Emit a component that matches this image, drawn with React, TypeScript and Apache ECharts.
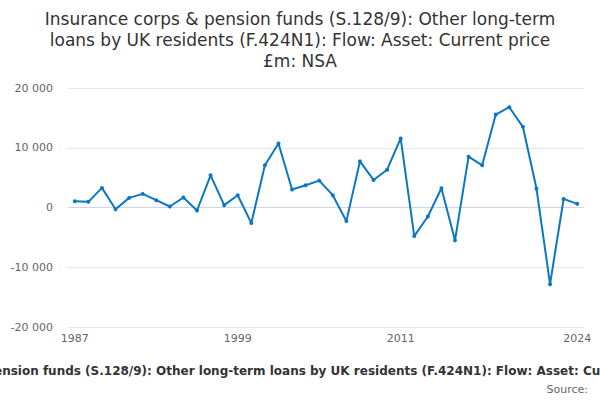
import React, { useEffect, useRef } from "react";
import * as echarts from "echarts";

const years: string[] = [
  "1987","1988","1989","1990","1991","1992","1993","1994","1995","1996",
  "1997","1998","1999","2000","2001","2002","2003","2004","2005","2006",
  "2007","2008","2009","2010","2011","2012","2013","2014","2015","2016",
  "2017","2018","2019","2020","2021","2022","2023","2024",
];

const values: number[] = [
  1050, 950, 3280, -280, 1610, 2280, 1220, 170, 1670, -500,
  5390, 390, 2060, -2610, 7060, 10720, 3000, 3720, 4500, 2060,
  -2280, 7720, 4610, 6330, 11560, -4780, -1500, 3220, -5500, 8500,
  7060, 15560, 16780, 13500, 3170, -12830, 1440, 610,
];

const yTicks: number[] = [-20000, -10000, 0, 10000, 20000];

const titleText =
  "Insurance corps & pension funds (S.128/9): Other long-term\nloans by UK residents (F.424N1): Flow: Asset: Current price\n£m: NSA";
const axisTitle =
  "Insurance corps & pension funds (S.128/9): Other long-term loans by UK residents (F.424N1): Flow: Asset: Current price £m: NSA";

const fmt = (v: number) => {
  const s = Math.abs(v).toString().replace(/\B(?=(\d{3})+(?!\d))/g, " ");
  return (v < 0 ? "-" : "") + s;
};

function measure(text: string, font: string): number {
  const c = document.createElement("canvas");
  const ctx = c.getContext("2d");
  if (!ctx) return 135;
  ctx.font = font;
  return ctx.measureText(text).width;
}

export default function App() {
  const ref = useRef<HTMLDivElement>(null);
  useEffect(() => {
    if (!ref.current) return;
    const chart = echarts.init(ref.current, undefined, { renderer: "svg" });
    const last = years.length - 1;

    // The axis title overflows the chart in the reference: place it so the same part shows.
    const prefixW = measure("Insurance corps & p", "bold 12px 'DejaVu Sans'");
    const axisTitleX = -6 - prefixW;

    chart.setOption({
      animation: false,
      textStyle: { fontFamily: "DejaVu Sans" },
      title: {
        text: titleText,
        left: "center",
        top: 3,
        textStyle: {
          fontFamily: "DejaVu Sans",
          fontSize: 17,
          fontWeight: "normal",
          color: "#333333",
          lineHeight: 21,
        },
      },
      grid: { left: 68, right: 16, top: 88, bottom: 73, containLabel: false, outerBoundsMode: "none" },
      xAxis: {
        type: "category",
        data: years,
        boundaryGap: true,
        axisLine: { lineStyle: { color: "#ccd6eb", width: 1 } },
        axisTick: {
          alignWithLabel: true,
          length: 9,
          lineStyle: { color: "#ccd6eb" },
          interval: (i: number) => (i % 3 === 0 && i < 36) || i === last,
        },
        axisLabel: {
          color: "#666666",
          fontSize: 11,
          margin: 6,
          interval: (i: number) => (i % 12 === 0 && i < 36) || i === last,
        },
        splitLine: { show: false },
      },
      yAxis: {
        type: "value",
        min: -20000,
        max: 20000,
        interval: 10000,
        axisLine: { show: false },
        axisTick: { show: false },
        axisLabel: {
          color: "#666666",
          fontSize: 11,
          margin: 15,
          formatter: (v: number) => (yTicks.includes(v) ? fmt(v) : ""),
        },
        splitLine: { lineStyle: { color: "#e6e6e6", width: 1 } },
      },
      series: [
        {
          type: "line",
          data: values,
          symbol: "circle",
          symbolSize: 4,
          lineStyle: { color: "#0a78c0", width: 2 },
          itemStyle: { color: "#0a78c0" },
        },
      ],
      graphic: [
        {
          type: "text",
          left: axisTitleX,
          top: 365,
          style: {
            text: axisTitle,
            fontFamily: "DejaVu Sans",
            fontSize: 12,
            fontWeight: "bold",
            fill: "#333333",
          },
        },
        {
          type: "text",
          x: 588,
          y: 389,
          style: {
            text: "Source:",
            fontFamily: "DejaVu Sans",
            fontSize: 11,
            fill: "#666666",
            align: "right",
            verticalAlign: "middle",
          },
        },
      ],
    });
    return () => chart.dispose();
  }, []);
  return (
    <div
      ref={ref}
      style={{ width: 600, height: 400, position: "absolute", left: 0, top: 0 }}
    />
  );
}
